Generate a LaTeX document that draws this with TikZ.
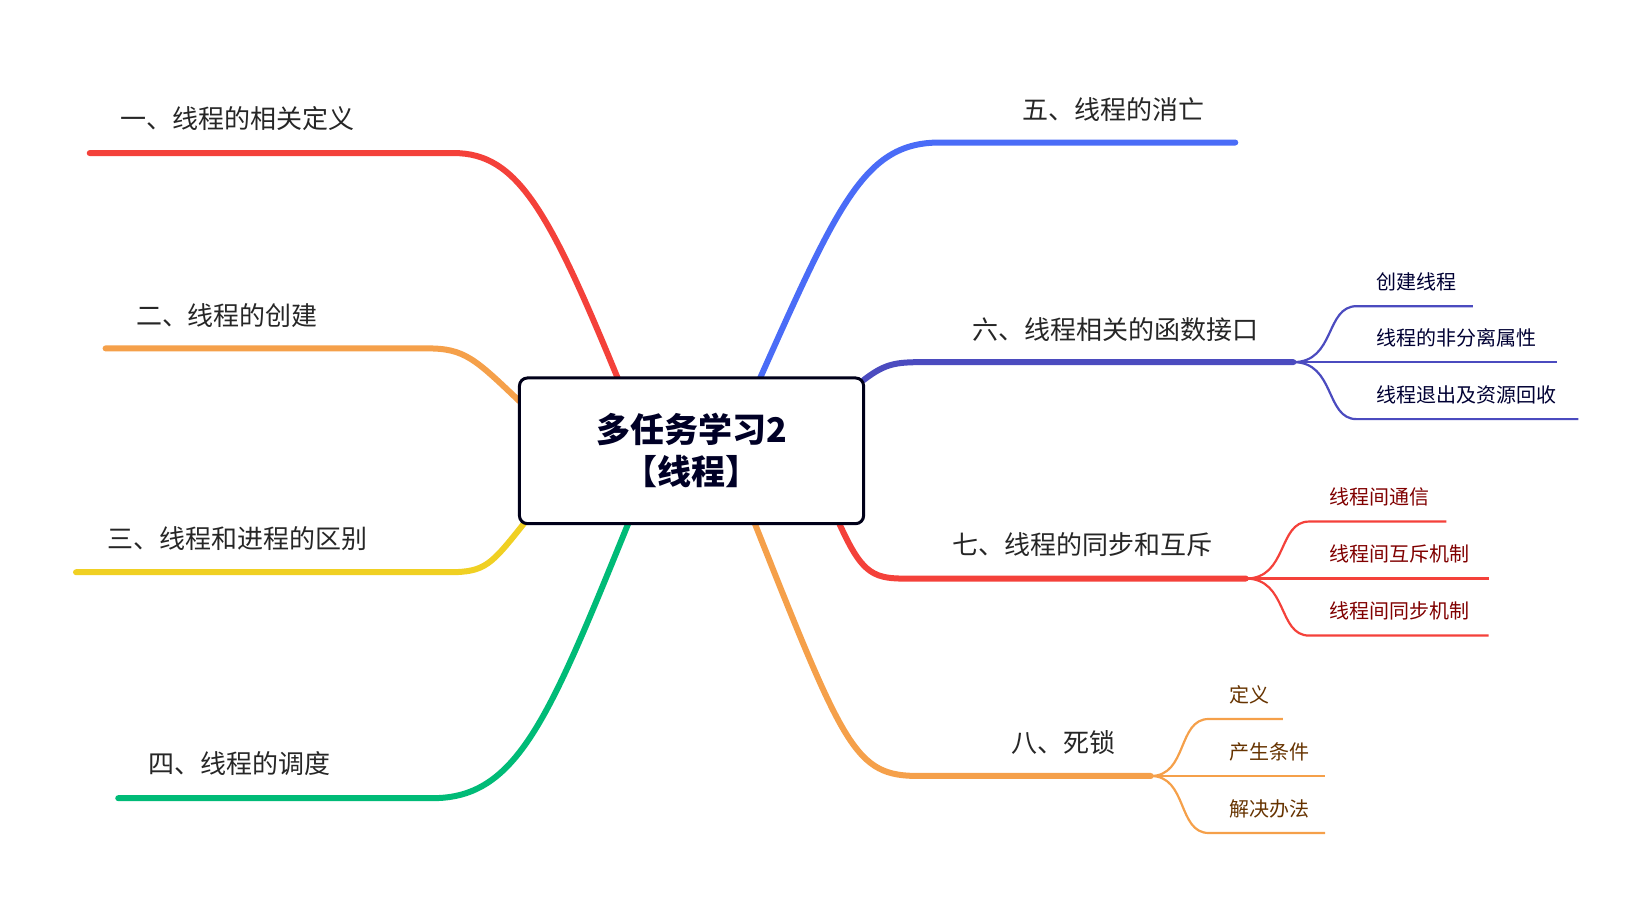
\documentclass[tikz,border=0pt]{standalone}
\usepackage{fontspec}
\setmainfont{Noto Sans CJK SC}
\usetikzlibrary{positioning}
\definecolor{cred}{HTML}{F4413A}
\definecolor{corange}{HTML}{F5A04A}
\definecolor{cyellow}{HTML}{F0D023}
\definecolor{cgreen}{HTML}{00BB77}
\definecolor{cblue}{HTML}{4A6CF7}
\definecolor{cindigo}{HTML}{4B4BBF}
\tikzset{
  main node/.style={draw=black!90!blue,line width=3pt,rounded corners=8pt,minimum width=326pt*1.056,minimum height=138pt*1.056,align=center,font=\fontsize{34}{42}\selectfont\bfseries,text=black!85!blue},
  branch/.style={line width=6pt,line cap=round},
  sub/.style={line width=2.2pt},
  blabel/.style={font=\fontsize{26}{30}\selectfont,text=black!85},
  slabel/.style={font=\fontsize{20}{24}\selectfont,anchor=west}
}
\begin{document}
\begin{tikzpicture}[x=1.056pt,y=-1.056pt]
    \useasboundingbox (0,0) rectangle (1560,859);

    % left side
    \draw[branch,cred] (585,358) .. controls (520,200) and (490,145) .. (430,145) -- (85,145);
    \node (b1)[blabel] at (225,112){一、线程的相关定义};
    \draw[branch,corange] (492,380) .. controls (450,340) and (440,330) .. (405,330) -- (100,330);
    \node (b2)[blabel] at (215,299){二、线程的创建};
    \draw[branch,cyellow] (497,495) .. controls (465,535) and (460,542) .. (425,542) -- (72,542);
    \node (b3)[blabel] at (225,510){三、线程和进程的区别};
    \draw[branch,cgreen] (595,496) .. controls (520,680) and (490,756) .. (410,756) -- (112,756);
    \node (b4)[blabel] at (227,723){四、线程的调度};

    % right side
    \draw[branch,cblue] (720,358) .. controls (795,190) and (820,135) .. (890,135) -- (1170,135);
    \node (b5)[blabel] at (1055,104){五、线程的消亡};
    \draw[branch,cindigo] (818,360) .. controls (840,343) and (850,343) .. (880,343) -- (1225,343);
    \node (b6)[blabel] at (1057,312){六、线程相关的函数接口};
    \draw[branch,cred] (795,496) .. controls (815,540) and (825,548) .. (855,548) -- (1180,548);
    \node (b7)[blabel] at (1025,516){七、线程的同步和互斥};
    \draw[branch,corange] (715,496) .. controls (800,710) and (810,735) .. (870,735) -- (1090,735);
    \node (b8)[blabel] at (1007,703){八、死锁};

    % sub branches
    \coordinate (f6) at (1225,343);
    \coordinate (f7) at (1180,548);
    \coordinate (f8) at (1090,735);
    \foreach \y/\e/\t in {290/1395/创建线程,343/1475/线程的非分离属性,397/1495/线程退出及资源回收}
        \draw[sub,cindigo] (f6) .. controls (1265,343) and (1255,\y) .. (1285,\y) -- (\e,\y)
            node[slabel,text=black!80!blue] at (1300,\y-23){\t};
    \foreach \y/\e/\t in {494/1370/线程间通信,548/1410/线程间互斥机制,602/1410/线程间同步机制}
        \draw[sub,cred] (f7) .. controls (1220,548) and (1210,\y) .. (1240,\y) -- (\e,\y)
            node[slabel,text=red!50!black] at (1255,\y-23){\t};
    \foreach \y/\e/\t in {681/1215/定义,735/1255/产生条件,789/1255/解决办法}
        \draw[sub,corange] (f8) .. controls (1125,735) and (1115,\y) .. (1145,\y) -- (\e,\y)
            node[slabel,text=orange!40!black] at (1160,\y-23){\t};

    % center
    \node (root)[main node,fill=white] at (655,427){多任务学习2\\【线程】};
\end{tikzpicture}
\end{document}
